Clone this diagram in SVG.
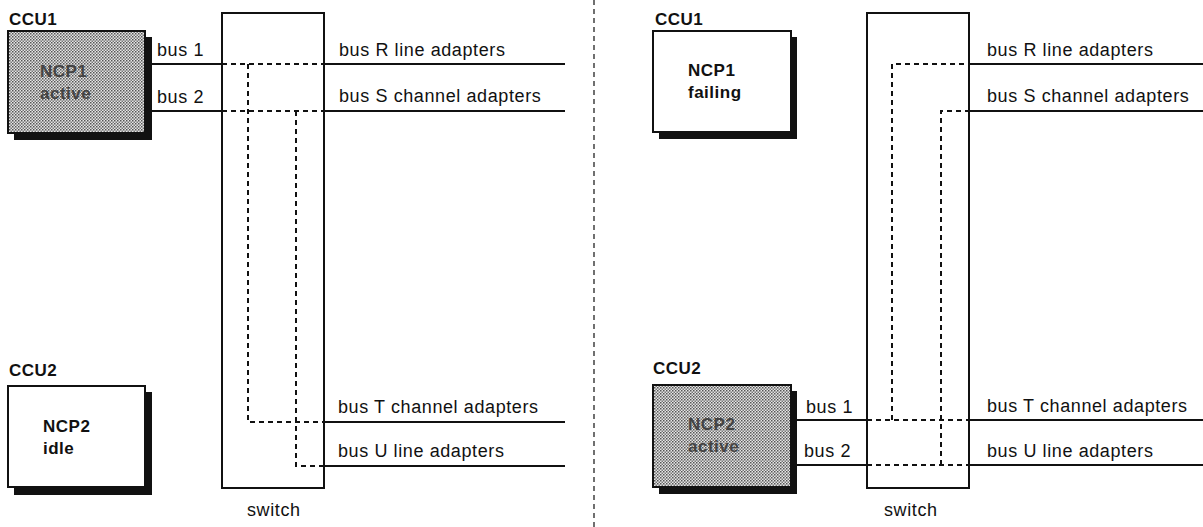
<svg xmlns="http://www.w3.org/2000/svg" width="1203" height="527" viewBox="0 0 1203 527">
<defs>
<pattern id="dots" width="3" height="3" patternUnits="userSpaceOnUse">
<rect width="3" height="3" fill="#e6e6e6"/>
<rect x="0" y="0" width="1.5" height="1.5" fill="#555"/>
<rect x="1.5" y="1.5" width="1.5" height="1.5" fill="#777"/>
</pattern>
<style>
text{font-family:"Liberation Sans",Arial,sans-serif;font-size:18px;letter-spacing:0.6px;fill:#111}
.b{font-weight:bold;font-size:17px;letter-spacing:0.5px}
.g{fill:#444}
.box{stroke:#111;stroke-width:2}
.sh{fill:#111}
.sw{fill:none;stroke:#111;stroke-width:2}
.ln{stroke:#111;stroke-width:2;fill:none}
.dl{stroke:#111;stroke-width:2;fill:none;stroke-dasharray:5 4}
.div{stroke:#111;stroke-width:1.2;stroke-dasharray:5 4}
</style>
</defs>
<rect width="1203" height="527" fill="#fff"/>

<line class="div" x1="594" y1="0" x2="594" y2="527"/>

<!-- Left panel -->
<g id="L_CCU1">
<text x="9" y="25" class="b">CCU1</text>
<rect class="sh" x="14" y="37" width="138" height="103"/>
<rect class="box" x="8" y="31" width="137" height="102" fill="url(#dots)"/>
<text x="40" y="77" class="b g">NCP1</text>
<text x="40" y="99" class="b g">active</text>
</g>
<g id="L_CCU2">
<text x="9" y="376" class="b">CCU2</text>
<rect class="sh" x="14" y="392" width="138" height="103"/>
<rect class="box" x="8" y="386" width="137" height="101" fill="#fff"/>
<text x="43" y="432" class="b">NCP2</text>
<text x="43" y="454" class="b">idle</text>
</g>
<g id="L_switch">
<rect class="sw" x="222" y="13" width="102" height="475"/>
<text x="247" y="516">switch</text>
</g>
<g id="L_connectors">
<line class="ln" x1="150" y1="64" x2="222" y2="64"/>
<line class="ln" x1="150" y1="111" x2="222" y2="111"/>
<line class="dl" x1="222" y1="64" x2="324" y2="64"/>
<line class="dl" x1="222" y1="111" x2="324" y2="111"/>
<polyline class="dl" points="248,64 248,422 324,422"/>
<polyline class="dl" points="296,111 296,466 324,466"/>
<line class="ln" x1="324" y1="64" x2="565" y2="64"/>
<line class="ln" x1="324" y1="111" x2="565" y2="111"/>
<line class="ln" x1="324" y1="422" x2="565" y2="422"/>
<line class="ln" x1="324" y1="466" x2="565" y2="466"/>
</g>
<g id="L_labels">
<text x="157" y="56">bus 1</text>
<text x="157" y="103">bus 2</text>
<text x="339" y="56">bus R line adapters</text>
<text x="339" y="102">bus S channel adapters</text>
<text x="338" y="413">bus T channel adapters</text>
<text x="338" y="457">bus U line adapters</text>
</g>

<!-- Right panel -->
<g id="R_CCU1">
<text x="655" y="25" class="b">CCU1</text>
<rect class="sh" x="659" y="37" width="138" height="102"/>
<rect class="box" x="653" y="31" width="138" height="101" fill="#fff"/>
<text x="688" y="76" class="b">NCP1</text>
<text x="688" y="98" class="b">failing</text>
</g>
<g id="R_CCU2">
<text x="653" y="374" class="b">CCU2</text>
<rect class="sh" x="659" y="391" width="138" height="103"/>
<rect class="box" x="653" y="385" width="138" height="102" fill="url(#dots)"/>
<text x="688" y="430" class="b g">NCP2</text>
<text x="688" y="452" class="b g">active</text>
</g>
<g id="R_switch">
<rect class="sw" x="867" y="13" width="102" height="475"/>
<text x="884" y="516">switch</text>
</g>
<g id="R_connectors">
<line class="ln" x1="797" y1="420" x2="867" y2="420"/>
<line class="ln" x1="797" y1="465" x2="867" y2="465"/>
<line class="dl" x1="867" y1="420" x2="969" y2="420"/>
<line class="dl" x1="867" y1="465" x2="969" y2="465"/>
<polyline class="dl" points="892,420 892,64 969,64"/>
<polyline class="dl" points="941,465 941,111 969,111"/>
<line class="ln" x1="969" y1="64" x2="1203" y2="64"/>
<line class="ln" x1="969" y1="111" x2="1203" y2="111"/>
<line class="ln" x1="969" y1="420" x2="1203" y2="420"/>
<line class="ln" x1="969" y1="465" x2="1203" y2="465"/>
</g>
<g id="R_labels">
<text x="806" y="413">bus 1</text>
<text x="804" y="457">bus 2</text>
<text x="987" y="56">bus R line adapters</text>
<text x="987" y="102">bus S channel adapters</text>
<text x="987" y="412">bus T channel adapters</text>
<text x="987" y="457">bus U line adapters</text>
</g>
</svg>
